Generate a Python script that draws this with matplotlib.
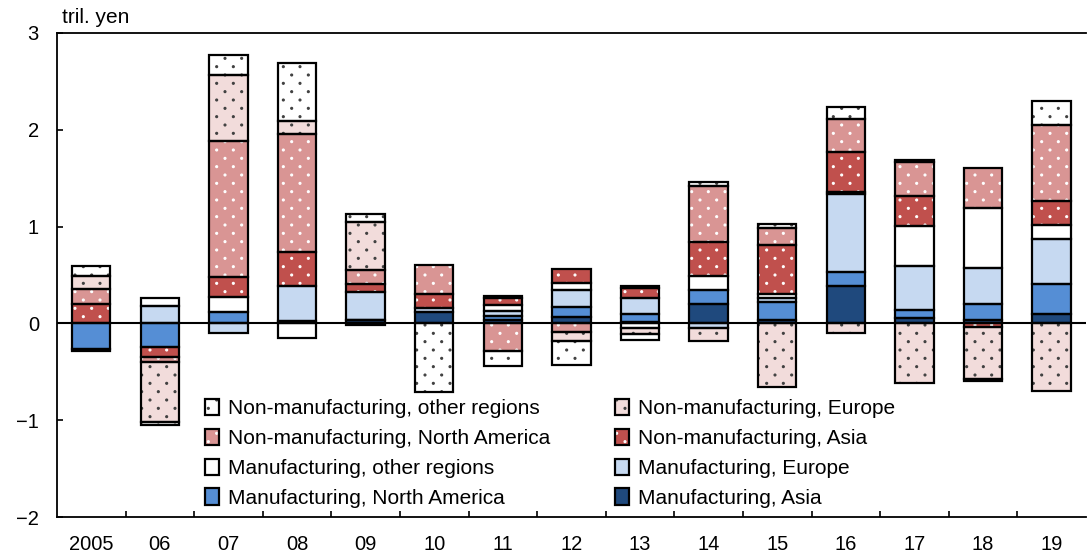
import matplotlib
matplotlib.use('Agg')
import matplotlib.pyplot as plt
import matplotlib.hatch as mhatch
from matplotlib.path import Path
import numpy as np
from matplotlib.legend_handler import HandlerTuple
from matplotlib.patches import Patch

plt.rcParams['font.family'] = ['Liberation Sans', 'DejaVu Sans']
plt.rcParams['hatch.linewidth'] = 0.8


# staggered dot texture (rows close together, dots apart within a row)
class StaggeredDots(mhatch.HatchPatternBase):
    def __init__(self, hatch, density):
        n = hatch.count('.')
        self.rows = 12 * n
        circ = Path.unit_circle()
        self.sv = circ.vertices * 0.010
        self.sc = circ.codes
        pts = []
        if self.rows:
            step = 1.0 / self.rows
            for j in range(self.rows + 1):
                xs = np.arange((j % 2) * step, 1.0 + 1e-9, 2 * step)
                for xv in xs:
                    pts.append((xv, j * step))
        self.pts = pts
        self.num_vertices = len(pts) * len(self.sv)

    def set_vertices_and_codes(self, vertices, codes):
        vp = [self.sv + np.array(p) for p in self.pts]
        cp = [self.sc for _ in self.pts]
        np.concatenate(vp, out=vertices)
        np.concatenate(cp, out=codes)


mhatch._hatch_types = [StaggeredDots if t is mhatch.SmallFilledCircles else t
                       for t in mhatch._hatch_types]

years = ['2005', '06', '07', '08', '09', '10', '11', '12', '13', '14', '15', '16', '17', '18', '19']

mfg_asia    = [0.00, 0.00, 0.00, 0.02, 0.03, 0.12, 0.038, 0.07, 0.01, 0.20, 0.04, 0.39, 0.055, 0.035, 0.10]
mfg_na      = [-0.265, -0.248, 0.12, 0.00, 0.01, 0.00, 0.035, 0.10, 0.09, 0.14, 0.18, 0.14, 0.085, 0.165, 0.31]
mfg_europe  = [0.00, 0.183, -0.10, 0.37, 0.28, 0.04, 0.06, 0.17, 0.165, -0.045, 0.04, 0.81, 0.455, 0.375, 0.46]
mfg_other   = [-0.025, 0.08, 0.15, -0.15, -0.02, 0.00, 0.06, 0.08, -0.05, 0.15, 0.045, 0.02, 0.41, 0.62, 0.145]
non_asia    = [0.196, -0.10, 0.21, 0.35, 0.09, 0.145, 0.066, 0.145, 0.10, 0.35, 0.50, 0.41, 0.31, -0.04, 0.25]
non_na      = [0.162, -0.055, 1.40, 1.22, 0.14, 0.295, -0.29, -0.09, 0.025, 0.58, 0.185, 0.34, 0.35, 0.41, 0.785]
non_europe  = [0.128, -0.62, 0.69, 0.13, 0.50, 0.00, 0.024, -0.09, -0.06, -0.14, -0.66, -0.10, -0.62, -0.53, -0.70]
non_other   = [0.11, -0.03, 0.20, 0.60, 0.08, -0.71, -0.145, -0.25, -0.06, 0.04, 0.04, 0.13, 0.02, -0.03, 0.25]

labels = ['Manufacturing, Asia', 'Manufacturing, North America', 'Manufacturing, Europe',
          'Manufacturing, other regions', 'Non-manufacturing, Asia',
          'Non-manufacturing, North America', 'Non-manufacturing, Europe',
          'Non-manufacturing, other regions']
series = [mfg_asia, mfg_na, mfg_europe, mfg_other, non_asia, non_na, non_europe, non_other]
colors = ['#1f497d', '#558ed5', '#c6d9f1', '#ffffff', '#c0504d', '#d99594', '#f2dcdb', '#ffffff']
hatches = [None, None, None, None, '.', '.', '.', '.']
hatch_colors = [None, None, None, None, '#ffffff', '#ffffff', '#404040', '#404040']

fig = plt.figure(figsize=(10.87, 5.57), dpi=100)
ax = fig.add_axes([0.0524, 0.0718, 0.9466, 0.869])

x = np.arange(len(years))
width = 0.56
pos_base = np.zeros(len(years))
neg_base = np.zeros(len(years))
handles = {}
for vals, lab, col, h, hc in zip(series, labels, colors, hatches, hatch_colors):
    v = np.array(vals, dtype=float)
    bottoms = np.where(v >= 0, pos_base, neg_base)
    m = v != 0
    if h:
        ax.bar(x[m], v[m], width, bottom=bottoms[m], color=col, hatch=h,
               edgecolor=hc, linewidth=0, zorder=2)
    else:
        ax.bar(x[m], v[m], width, bottom=bottoms[m], color=col, linewidth=0, zorder=2)
    ax.bar(x[m], v[m], width, bottom=bottoms[m], facecolor='none',
           edgecolor='black', linewidth=1.6, zorder=3)
    pos_base = pos_base + np.where(v > 0, v, 0)
    neg_base = neg_base + np.where(v < 0, v, 0)
    if h:
        p1 = Patch(facecolor=col, hatch=h, edgecolor=hc, linewidth=0)
    else:
        p1 = Patch(facecolor=col, linewidth=0)
    p2 = Patch(facecolor='none', edgecolor='black', linewidth=1.6)
    handles[lab] = (p1, p2)

ax.axhline(0, color='black', linewidth=1.5, zorder=4)

ax.set_xlim(-0.5, len(years) - 0.5)
ax.set_ylim(-2, 3)
ax.set_yticks([-2, -1, 0, 1, 2, 3])
ax.set_xticks(x)
ax.set_xticklabels(years)
ax.set_xticks(np.arange(0.5, len(years) - 0.5, 1.0), minor=True)
ax.tick_params(axis='x', which='major', length=0, pad=13, labelsize=14.5)
ax.tick_params(axis='x', which='minor', direction='in', length=4.5, width=1.2)
ax.tick_params(axis='y', direction='in', length=4.5, width=1.2, pad=13, labelsize=14.5)
for s in ['left', 'top', 'bottom']:
    ax.spines[s].set_linewidth(1.3)
ax.spines['right'].set_visible(False)

order = ['Non-manufacturing, other regions', 'Non-manufacturing, North America',
         'Manufacturing, other regions', 'Manufacturing, North America',
         'Non-manufacturing, Europe', 'Non-manufacturing, Asia',
         'Manufacturing, Europe', 'Manufacturing, Asia']
leg = ax.legend([handles[k] for k in order], order, ncol=2, frameon=False,
                loc='upper left', bbox_to_anchor=(0.1438, 0.2435), fontsize=15,
                handler_map={tuple: HandlerTuple(ndivide=1, pad=0)},
                handlelength=0.67, handleheight=0.82, handletextpad=0.45,
                columnspacing=3.1, labelspacing=0.5, borderpad=0, borderaxespad=0)

fig.text(0.057, 0.968, 'tril. yen', fontsize=15, va='center', ha='left')

fig.savefig('out.png', dpi=100)
